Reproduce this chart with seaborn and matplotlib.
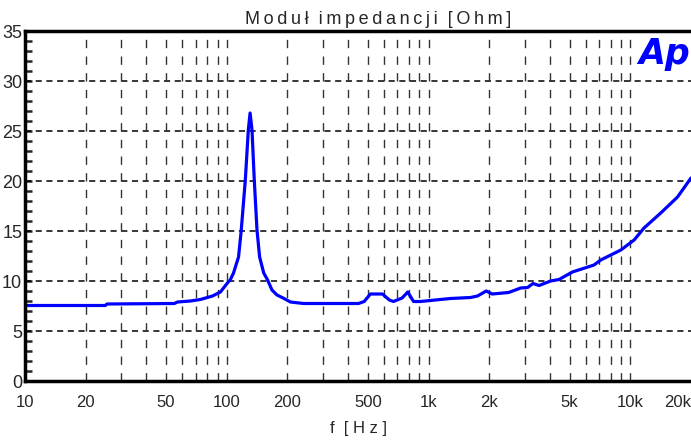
import numpy as np
import pandas as pd
import matplotlib
matplotlib.use("Agg")
import matplotlib.pyplot as plt
import matplotlib.ticker as mticker
import seaborn as sns

# impedance curve
freq = [10, 25, 25.5, 55, 57, 66, 74, 85, 93, 101.7, 104, 108, 114.4, 118,
        123.6, 127.9, 130.5, 133.4, 136.9, 141.2, 145.5, 152.5, 159.4, 167.5,
        177.4, 191.5, 206.7, 240, 450, 480, 515, 591, 640, 670, 740, 789, 843,
        912, 1285, 1615, 1750, 1931, 2070, 2495, 2864, 3100, 3296, 3530, 4030,
        4434, 5166, 6610, 7140, 8980, 10450, 11700, 14160, 17150, 20000]
imp = [7.55, 7.55, 7.7, 7.75, 7.9, 8.0, 8.15, 8.5, 8.9, 9.9, 10.1, 10.8, 12.4, 15.1,
       20.1, 25.1, 26.8, 25.1, 20.1, 15.1, 12.4, 10.8, 10.1, 9.1,
       8.6, 8.27, 7.9, 7.75, 7.75, 7.95, 8.7, 8.7, 8.1, 7.95, 8.3, 8.9, 7.95,
       7.95, 8.25, 8.35, 8.5, 9.0, 8.7, 8.85, 9.3, 9.35, 9.75, 9.55, 10.0,
       10.15, 10.9, 11.6, 12.1, 13.1, 14.1, 15.3, 16.8, 18.4, 20.3]

xticks = [10, 20, 50, 100, 200, 500, 1000, 2000, 5000, 10000, 20000]
xticklabels = ["10", "20", "50", "100", "200", "500", "1k", "2k", "5k", "10k", "20k"]
yticks = [0, 5, 10, 15, 20, 25, 30, 35]

df = pd.DataFrame({"f": freq, "Z": imp})

sns.set_style("white")
plt.rcParams["font.family"] = ["Liberation Sans Narrow", "Liberation Sans", "DejaVu Sans"]

fig = plt.figure(figsize=(6.91, 4.46), dpi=100)
ax = fig.add_axes([25 / 691, 1 - 381 / 446, 1 - 25 / 691, 350 / 446])

sns.lineplot(data=df, x="f", y="Z", color="#0000ff", linewidth=2.3, ax=ax)

ax.set_xscale("log")
ax.set_xlim(10, 20000)
ax.set_ylim(0, 35)

# grid: dashed horizontals every 5, dashed verticals at every log step
for y in yticks[1:-1]:
    ax.axhline(y, color="black", lw=1.1, ls=(0, (4, 3)), zorder=1)
vlines = [m * 10 ** e for e in range(1, 5) for m in range(1, 10)]
for v in vlines:
    if 10 < v < 20000:
        ax.axvline(v, color="#333333", lw=1.0, ls=(0, (6, 6)), zorder=1)

ax.set_xticks(xticks)
ax.set_xticklabels(xticklabels, fontsize=12)
ax.xaxis.set_minor_locator(mticker.NullLocator())
ax.set_yticks(yticks)
ax.set_yticklabels([str(v) for v in yticks], fontsize=13)
ax.yaxis.set_minor_locator(mticker.MultipleLocator(1))
ax.tick_params(axis="y", which="both", direction="in", length=5, width=1.8, left=True, pad=2)
ax.tick_params(axis="x", which="both", length=0, pad=10)
labs = ax.get_xticklabels()
labs[-1].set_horizontalalignment("right")

for side in ["left", "top", "bottom"]:
    ax.spines[side].set_linewidth(2.5)
    ax.spines[side].set_color("black")
ax.spines["right"].set_visible(False)

ax.set_xlabel("f  [ H z ]", fontsize=12, labelpad=8)
ax.set_ylabel("")

# letter-spaced title
ts = "\u2009"
title = "  ".join(ts.join(w) for w in ["Moduł", "impedancji", "[Ohm]"])
fig.text(378 / 691, 1 - 20 / 446, title, ha="center", va="center", fontsize=13)

ax.text(0.999, 0.935, "Ap", transform=ax.transAxes, ha="right", va="center",
        fontsize=25, fontweight="bold", fontstyle="italic",
        color="#0000ff", family=["DejaVu Sans"])

fig.savefig("out.png", dpi=100)
